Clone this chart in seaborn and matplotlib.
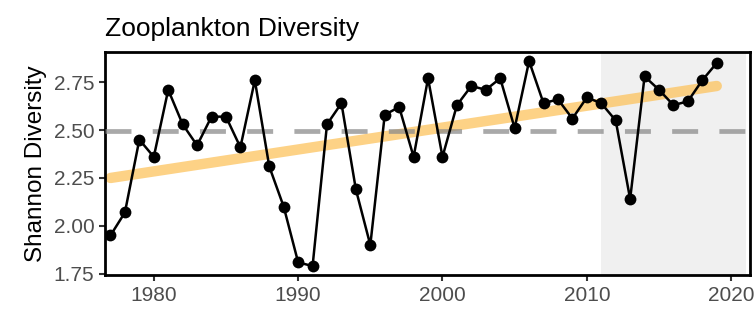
import numpy as np
import pandas as pd
import matplotlib
matplotlib.use("Agg")
import matplotlib.pyplot as plt
import seaborn as sns

# Zooplankton Shannon diversity, annual values
years = list(range(1977, 2020))
diversity = [1.95, 2.07, 2.45, 2.36, 2.71, 2.53, 2.42, 2.57, 2.57, 2.41,
             2.76, 2.31, 2.10, 1.81, 1.79, 2.53, 2.64, 2.19, 1.90, 2.58,
             2.62, 2.36, 2.77, 2.36, 2.63, 2.73, 2.71, 2.77, 2.51, 2.86,
             2.64, 2.66, 2.56, 2.67, 2.64, 2.55, 2.14, 2.78, 2.71, 2.63,
             2.65, 2.76, 2.85]

# long-term mean and linear trend end points
mean_value = 2.494
trend_years = [1977, 2019]
trend_values = [2.25, 2.73]

# recent period highlighted
recent_start, recent_end = 2011, 2021

y_ticks = [1.75, 2.00, 2.25, 2.50, 2.75]
x_ticks = [1980, 1990, 2000, 2010, 2020]

df = pd.DataFrame({'year': years, 'diversity': diversity})
df_trend = pd.DataFrame({'year': trend_years, 'diversity': trend_values})

sns.set_theme(style='white')
plt.rcParams['font.family'] = ['Liberation Sans', 'DejaVu Sans']

fig = plt.figure(figsize=(7.56, 3.14), dpi=100)
ax = fig.add_axes([0.1385, 0.1232, 0.8535, 0.7122])

ax.axvspan(recent_start, recent_end, color='#f0f0f0', lw=0, zorder=0)

sns.lineplot(x='year', y='diversity', data=df_trend, ax=ax, color='#fdc35e',
             alpha=0.75, lw=7.5, solid_capstyle='round', zorder=2)
ax.axhline(mean_value, color='#8c8c8c', alpha=0.75, lw=3.4,
           dashes=(5.5, 4.5), zorder=3)
sns.lineplot(x='year', y='diversity', data=df, ax=ax, color='black', lw=1.8,
             marker='o', markersize=8.5, markeredgewidth=0, zorder=4)

ax.set_xlim(1976.6, 2021.3)
ax.set_ylim(1.742, 2.909)
ax.set_xticks(x_ticks)
ax.set_yticks(y_ticks)
ax.set_yticklabels([f'{v:.2f}' for v in y_ticks])

ax.set_xlabel('')
ax.set_ylabel('Shannon Diversity', fontsize=17.5, color='black', labelpad=5)
ax.set_title('Zooplankton Diversity', loc='left', fontsize=19, color='black', pad=11)

for side in ax.spines.values():
    side.set_visible(True)
    side.set_color('black')
    side.set_linewidth(2)

ax.tick_params(axis='both', which='both', direction='out', length=4.5, width=1.5,
               color='#333333', labelsize=15, labelcolor='#4d4d4d', pad=3,
               bottom=True, left=True)

fig.savefig('out.png', dpi=100)
